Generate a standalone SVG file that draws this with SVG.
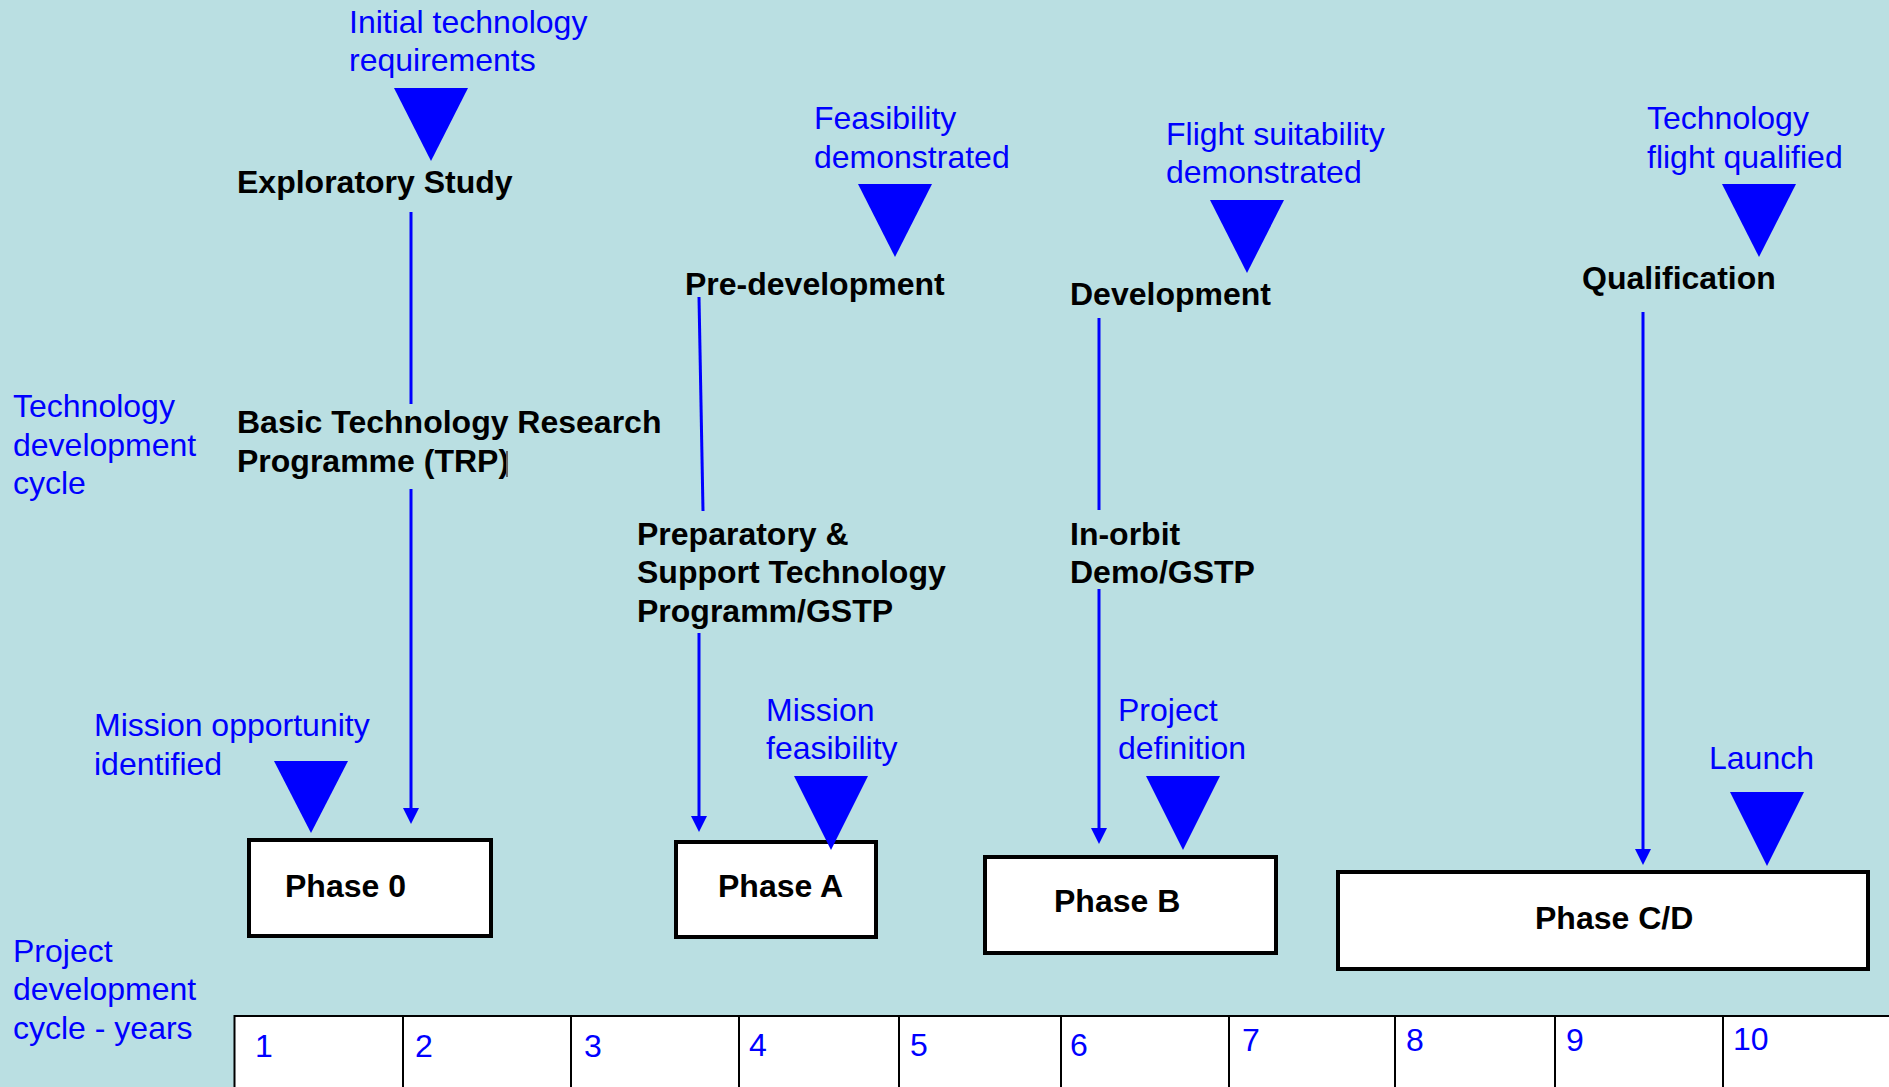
<svg xmlns="http://www.w3.org/2000/svg" width="1889" height="1087" viewBox="0 0 1889 1087">
<style>
.bl{font-family:"Liberation Sans",Arial,sans-serif;font-size:32px;fill:#0000ff}
.bk{font-family:"Liberation Sans",Arial,sans-serif;font-size:32px;font-weight:bold;fill:#000}
.box{fill:#fff;stroke:#000;stroke-width:4}
.tri{fill:#0000ff}
.conn line{stroke:#0000ff;stroke-width:3;fill:none}
.grid{stroke:#000;stroke-width:2}
</style>
<defs>
<marker id="ah" viewBox="0 0 16 16" markerWidth="16" markerHeight="16" refX="10" refY="8" orient="auto" markerUnits="userSpaceOnUse">
<path d="M0,0 L16,8 L0,16 z" fill="#0000ff"/>
</marker>
</defs>
<rect x="0" y="0" width="1889" height="1087" fill="#badfe2"/>

<g id="axis-labels">
<text class="bl" x="13" y="417">Technology</text>
<text class="bl" x="13" y="456">development</text>
<text class="bl" x="13" y="494">cycle</text>
<text class="bl" x="13" y="962">Project</text>
<text class="bl" x="13" y="1000">development</text>
<text class="bl" x="13" y="1039">cycle - years</text>
</g>

<g id="years">
<rect x="234.5" y="1016" width="1660" height="80" fill="#fff" class="grid"/>
<line class="grid" x1="403" y1="1016" x2="403" y2="1087"/>
<line class="grid" x1="571" y1="1016" x2="571" y2="1087"/>
<line class="grid" x1="739" y1="1016" x2="739" y2="1087"/>
<line class="grid" x1="899" y1="1016" x2="899" y2="1087"/>
<line class="grid" x1="1061" y1="1016" x2="1061" y2="1087"/>
<line class="grid" x1="1229" y1="1016" x2="1229" y2="1087"/>
<line class="grid" x1="1395" y1="1016" x2="1395" y2="1087"/>
<line class="grid" x1="1555" y1="1016" x2="1555" y2="1087"/>
<line class="grid" x1="1723" y1="1016" x2="1723" y2="1087"/>
<text class="bl" x="255" y="1057">1</text>
<text class="bl" x="415" y="1057">2</text>
<text class="bl" x="584" y="1057">3</text>
<text class="bl" x="749" y="1056">4</text>
<text class="bl" x="910" y="1056">5</text>
<text class="bl" x="1070" y="1056">6</text>
<text class="bl" x="1242" y="1051">7</text>
<text class="bl" x="1406" y="1051">8</text>
<text class="bl" x="1566" y="1051">9</text>
<text class="bl" x="1733" y="1050">10</text>
</g>

<g id="node-exploratory"><text class="bk" x="237" y="193">Exploratory Study</text></g>
<g id="node-trp">
<text class="bk" x="237" y="433">Basic Technology Research</text>
<text class="bk" x="237" y="472">Programme (TRP)</text>
<rect x="506" y="451" width="2" height="26" fill="#666"/>
</g>
<g id="node-predev"><text class="bk" x="685" y="295">Pre-development</text></g>
<g id="node-gstp">
<text class="bk" x="637" y="545">Preparatory &amp;</text>
<text class="bk" x="637" y="583">Support Technology</text>
<text class="bk" x="637" y="622">Programm/GSTP</text>
</g>
<g id="node-dev"><text class="bk" x="1070" y="305">Development</text></g>
<g id="node-inorbit">
<text class="bk" x="1070" y="545">In-orbit</text>
<text class="bk" x="1070" y="583">Demo/GSTP</text>
</g>
<g id="node-qual"><text class="bk" x="1582" y="289">Qualification</text></g>

<g id="node-phase0"><rect class="box" x="249" y="840" width="242" height="96"/><text class="bk" x="285" y="897">Phase 0</text></g>
<g id="node-phaseA"><rect class="box" x="676" y="842" width="200" height="95"/><text class="bk" x="718" y="897">Phase A</text></g>
<g id="node-phaseB"><rect class="box" x="985" y="857" width="291" height="96"/><text class="bk" x="1054" y="912">Phase B</text></g>
<g id="node-phaseCD"><rect class="box" x="1338" y="872" width="530" height="97"/><text class="bk" x="1535" y="929">Phase C/D</text></g>

<g id="milestone-initial">
<text class="bl" x="349" y="33">Initial technology</text>
<text class="bl" x="349" y="71">requirements</text>
<polygon class="tri" points="394,88 468,88 431,161"/>
</g>
<g id="milestone-feasibility">
<text class="bl" x="814" y="129">Feasibility</text>
<text class="bl" x="814" y="168">demonstrated</text>
<polygon class="tri" points="858,184 932,184 895,257"/>
</g>
<g id="milestone-flight">
<text class="bl" x="1166" y="145">Flight suitability</text>
<text class="bl" x="1166" y="183">demonstrated</text>
<polygon class="tri" points="1210,200 1284,200 1247,273"/>
</g>
<g id="milestone-qualified">
<text class="bl" x="1647" y="129">Technology</text>
<text class="bl" x="1647" y="168">flight qualified</text>
<polygon class="tri" points="1722,184 1796,184 1759,257"/>
</g>
<g id="milestone-opportunity">
<text class="bl" x="94" y="736">Mission opportunity</text>
<text class="bl" x="94" y="775">identified</text>
<polygon class="tri" points="274,761 348,761 311,833"/>
</g>
<g id="milestone-mission-feasibility">
<text class="bl" x="766" y="721">Mission</text>
<text class="bl" x="766" y="759">feasibility</text>
<polygon class="tri" points="794,776 868,776 831,850"/>
</g>
<g id="milestone-definition">
<text class="bl" x="1118" y="721">Project</text>
<text class="bl" x="1118" y="759">definition</text>
<polygon class="tri" points="1146,776 1220,776 1183,850"/>
</g>
<g id="milestone-launch">
<text class="bl" x="1709" y="769">Launch</text>
<polygon class="tri" points="1730,792 1804,792 1767,866"/>
</g>

<g id="connectors" class="conn">
<line x1="411" y1="212" x2="411" y2="404"/>
<line x1="411" y1="489" x2="411" y2="818" marker-end="url(#ah)"/>
<line x1="699" y1="297" x2="703" y2="511"/>
<line x1="699" y1="633" x2="699" y2="826" marker-end="url(#ah)"/>
<line x1="1099" y1="318" x2="1099" y2="510"/>
<line x1="1099" y1="589" x2="1099" y2="838" marker-end="url(#ah)"/>
<line x1="1643" y1="312" x2="1643" y2="859" marker-end="url(#ah)"/>
</g>
</svg>
